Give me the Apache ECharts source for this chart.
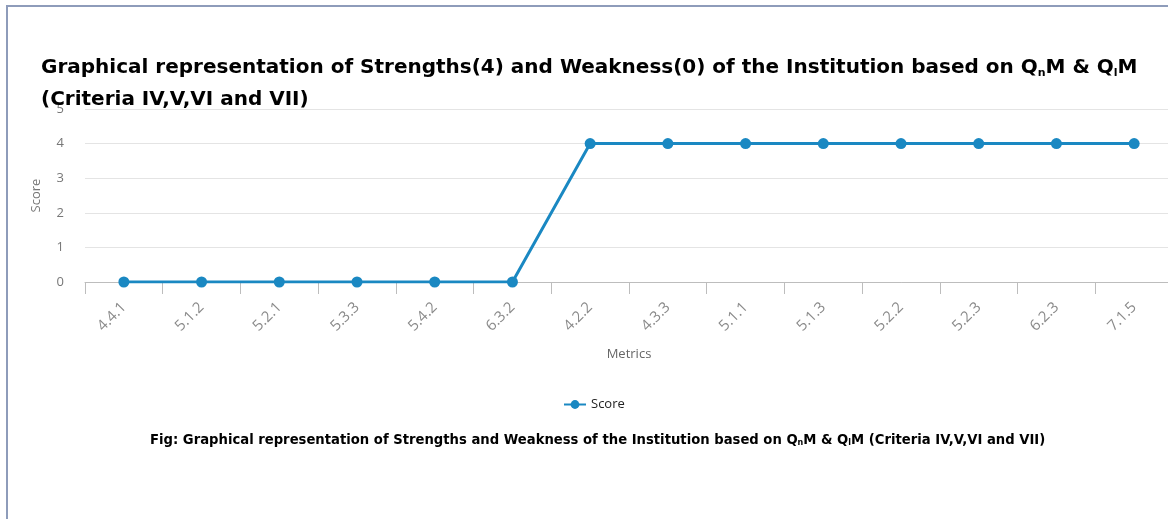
<!DOCTYPE html>
<html lang="en">
<head>
    <meta charset="UTF-8">
    <title>Strengths and Weakness</title>
    <script src="https://cdn.jsdelivr.net/npm/echarts@6/dist/echarts.min.js"></script>
    <style>
        html, body { margin: 0; padding: 0; background: #fff; overflow: hidden; }
        #frame { position: absolute; left: 6px; top: 5px; width: 1170px; height: 520px;
                 border-left: 2px solid #8e9cba; border-top: 2px solid #8e9cba; pointer-events: none; z-index: 2; }
        #main { position: absolute; left: 0; top: 0; width: 1200px; height: 519px; }
    </style>
</head>
<body>
<div id="main"></div>
<div id="frame"></div>

<script type="text/javascript">
    // metrics (x axis) and their scores
    var metrics = ['4.4.1', '5.1.2', '5.2.1', '5.3.3', '5.4.2', '6.3.2', '4.2.2',
                   '4.3.3', '5.1.1', '5.1.3', '5.2.2', '5.2.3', '6.2.3', '7.1.5'];
    var scores = [0, 0, 0, 0, 0, 0, 4, 4, 4, 4, 4, 4, 4, 4];
    var yTicks = [0, 1, 2, 3, 4, 5];

    var blue = '#1a88c2';
    var bold = 'DejaVu Sans';
    var myChart = echarts.init(document.getElementById('main'));
    myChart.setOption({
        animation: false,
        textStyle: { fontFamily: 'Open Sans' },
        title: [{
            left: 36,
            top: 47,
            text: 'Graphical representation of Strengths(4) and Weakness(0) of the Institution based on Q{sub|n}M & Q{sub|l}M\n(Criteria IV,V,VI and VII)',
            textStyle: {
                fontFamily: bold, fontWeight: 'bold', fontSize: 20, color: '#000', lineHeight: 32,
                rich: {
                    sub: { fontFamily: bold, fontWeight: 'bold', fontSize: 11, color: '#000', padding: [10, 0, 0, 0] }
                }
            }
        }, {
            left: 145,
            top: 429,
            text: 'Fig: Graphical representation of Strengths and Weakness of the Institution based on Q{sub|n}M & Q{sub|l}M (Criteria IV,V,VI and VII)',
            textStyle: {
                fontFamily: bold, fontWeight: 'bold', fontSize: 13.2, color: '#000',
                rich: {
                    sub: { fontFamily: bold, fontWeight: 'bold', fontSize: 8, color: '#000', padding: [5, 0, 0, 0] }
                }
            }
        }],
        legend: {
            data: ['Score'],
            left: 558,
            top: 393,
            itemWidth: 22,
            itemHeight: 11,
            itemGap: 4,
            textStyle: { fontSize: 13, color: '#222' }
        },
        grid: { left: 85, top: 109, width: 1088, height: 173 },
        xAxis: {
            type: 'category',
            data: metrics,
            name: 'Metrics',
            nameLocation: 'middle',
            nameGap: 66,
            nameTextStyle: { color: '#666', fontSize: 13 },
            axisLine: { lineStyle: { color: '#bdbdbd' } },
            axisTick: { show: true, length: 12, lineStyle: { color: '#bdbdbd', width: 1 } },
            axisLabel: { rotate: 45, margin: 23, color: '#8a8a8a', fontSize: 15 }
        },
        yAxis: {
            type: 'value',
            min: yTicks[0],
            max: yTicks[yTicks.length - 1],
            interval: 1,
            name: 'Score',
            nameLocation: 'middle',
            nameGap: 42,
            nameTextStyle: { color: '#777', fontSize: 13 },
            axisLine: { show: false },
            axisTick: { show: false },
            axisLabel: { color: '#777', fontSize: 13, margin: 21 },
            splitLine: { lineStyle: { color: '#e4e4e4' } }
        },
        series: [{
            name: 'Score',
            type: 'line',
            data: scores,
            symbol: 'circle',
            symbolSize: 11,
            itemStyle: { color: blue },
            lineStyle: { color: blue, width: 3 }
        }]
    });
</script>
</body>
</html>
